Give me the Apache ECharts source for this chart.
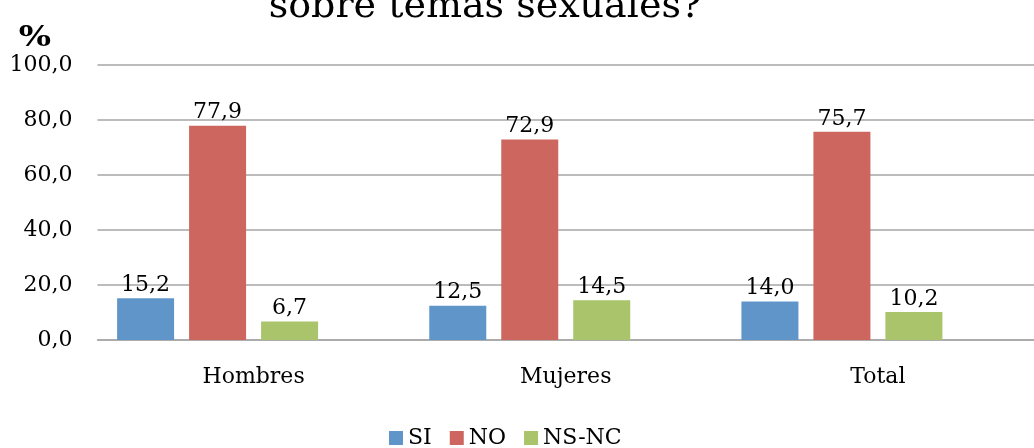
<!DOCTYPE html>
<html>
<head>
<meta charset="utf-8">
<script src="https://cdn.jsdelivr.net/npm/echarts@6/dist/echarts.min.js"></script>
<style>html,body{margin:0;padding:0;background:#fff}#c{width:1034px;height:448px}</style>
</head>
<body>
<div id="c"></div>
<script>
const categories = ['Hombres', 'Mujeres', 'Total'];
const seriesNames = ['SI', 'NO', 'NS-NC'];
const siValues = [15.2, 12.5, 14.0];
const noValues = [77.9, 72.9, 75.7];
const nsncValues = [6.7, 14.5, 10.2];
const yTicks = [0, 20, 40, 60, 80, 100];
const titleText = 'sobre temas sexuales?';
const yAxisTitle = '%';

const FONT = 'DejaVu Serif';
const FS = 22;
const fmt = v => Number(v).toFixed(1).replace('.', ',');
const colors = ['#6095C9', '#CC665E', '#AAC46C'];

const chart = echarts.init(document.getElementById('c'));
const labelCfg = {show: true, position: 'top', distance: 2, color: '#000', fontFamily: FONT, fontSize: FS, formatter: p => fmt(p.value)};
const mk = (name, data, i) => ({
  name, type: 'bar', data, barWidth: 57, barGap: '26.3%',
  itemStyle: {color: colors[i]}, label: labelCfg
});
chart.setOption({
  animation: false,
  textStyle: {fontFamily: FONT},
  grid: {left: 97.5, right: -8.5, top: 65, bottom: 108, containLabel: false},
  graphic: [
    {type: 'text', style: {text: titleText, x: 485, y: 26, textAlign: 'center', textVerticalAlign: 'bottom', verticalAlign: 'bottom', fontFamily: FONT, fontSize: 38, fill: '#000'}},
    {type: 'text', x: 35, y: 39, scaleY: 0.8, style: {text: yAxisTitle, x: 0, y: 0, textAlign: 'center', textVerticalAlign: 'middle', verticalAlign: 'middle', fontFamily: FONT, fontWeight: 'bold', fontSize: 34, fill: '#000'}}
  ],
  legend: {
    data: seriesNames, top: 422, left: 384, itemWidth: 14, itemHeight: 14, itemGap: 18,
    icon: 'rect', textStyle: {fontFamily: FONT, fontSize: FS, color: '#000'}
  },
  xAxis: {
    type: 'category', data: categories,
    axisLine: {lineStyle: {color: '#a6a6a6', width: 1.5}},
    axisTick: {show: false},
    axisLabel: {color: '#000', fontFamily: FONT, fontSize: FS, margin: 26}
  },
  yAxis: {
    type: 'value', min: 0, max: 100, interval: 20,
    axisLine: {show: false}, axisTick: {show: false},
    splitLine: {lineStyle: {color: '#a6a6a6', width: 1.5}},
    axisLabel: {color: '#000', fontFamily: FONT, fontSize: FS, margin: 25, formatter: v => yTicks.includes(v) ? fmt(v) : ''}
  },
  series: [
    mk(seriesNames[0], siValues, 0),
    mk(seriesNames[1], noValues, 1),
    mk(seriesNames[2], nsncValues, 2),
    {name: 'spacer', type: 'bar', data: [null, null, null], barWidth: 57, barGap: '26.3%', silent: true}
  ]
});
</script>
</body>
</html>
